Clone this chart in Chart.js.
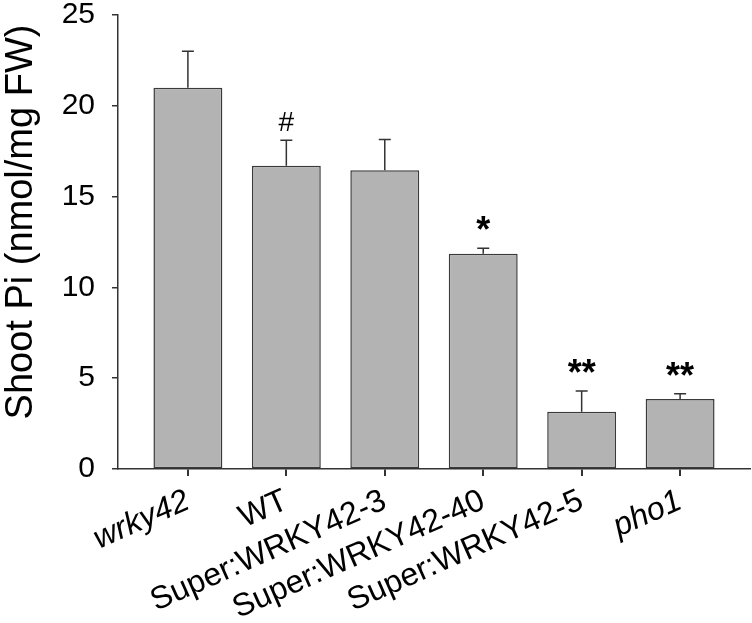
<!DOCTYPE html>
<html>
<head>
<meta charset="utf-8">
<script src="https://cdn.jsdelivr.net/npm/chart.js@4/dist/chart.umd.min.js"></script>
<style>
  html, body { margin: 0; padding: 0; background: #fff; }
  #wrap { width: 752px; height: 623px; }
</style>
</head>
<body>
<div id="wrap"><canvas id="chartShootPi"></canvas></div>
<script>
const categories = ['wrky42', 'WT', 'Super:WRKY42-3', 'Super:WRKY42-40', 'Super:WRKY42-5', 'pho1'];
const italic_labels = ['wrky42', 'pho1'];
const shoot_pi = [21.0, 16.7, 16.45, 11.85, 3.15, 3.85];
const shoot_pi_err = [2.0, 1.4, 1.7, 0.3, 1.15, 0.3];
const marks = ['', '#', '', '*', '**', '**'];
const y_ticks = [0, 5, 10, 15, 20, 25];

const FONT = '"Liberation Sans", Arial, sans-serif';
const DARK = '#333333';

// error bars (upper only) and significance marks
const errorBars = {
    id: 'errorBars',
    afterDatasetsDraw(chart) {
        const ctx = chart.ctx;
        const xs = chart.scales.x, ys = chart.scales.y;
        ctx.save();
        ctx.strokeStyle = DARK;
        ctx.lineWidth = 1.5;
        shoot_pi.forEach((v, i) => {
            const x = xs.getPixelForValue(i);
            const y0 = ys.getPixelForValue(v);
            const y1 = ys.getPixelForValue(v + shoot_pi_err[i]);
            ctx.beginPath();
            ctx.moveTo(x, y0);
            ctx.lineTo(x, y1);
            ctx.moveTo(x - 6, y1);
            ctx.lineTo(x + 6, y1);
            ctx.stroke();
            if (marks[i]) {
                ctx.fillStyle = '#000';
                ctx.textAlign = 'center';
                ctx.textBaseline = 'alphabetic';
                if (marks[i] === '#') {
                    ctx.font = '28px ' + FONT;
                    ctx.fillText(marks[i], x, y1 - 9);
                } else {
                    ctx.font = 'bold 36px ' + FONT;
                    ctx.fillText(marks[i], x, y1 - 6);
                }
            }
        });
        // y axis title
        ctx.save();
        ctx.translate(22, 222);
        ctx.rotate(-Math.PI / 2);
        ctx.font = '38px ' + FONT;
        ctx.fillStyle = '#000';
        ctx.textAlign = 'center';
        ctx.textBaseline = 'middle';
        ctx.fillText('Shoot Pi (nmol/mg FW)', 0, 0);
        ctx.restore();
        ctx.restore();
    }
};

const ctx1 = document.getElementById('chartShootPi').getContext('2d');
const chartShootPi = new Chart(ctx1, {
    type: 'bar',
    data: {
        datasets: [{
            data: shoot_pi.map((v, i) => ({ x: i, y: v })),
            backgroundColor: '#b3b3b3',
            borderColor: '#3a3a3a',
            borderWidth: 1.5,
            borderSkipped: false,
            categoryPercentage: 1,
            barPercentage: 0.70
        }]
    },
    options: {
        responsive: true,
        maintainAspectRatio: false,
        animation: false,
        layout: { padding: { top: 15, right: 2, left: 0, bottom: 0 } },
        plugins: {
            legend: { display: false },
            tooltip: { enabled: false }
        },
        scales: {
            x: {
                type: 'linear',
                offset: false,
                min: -0.71,
                max: 5.71,
                afterFit(scale) {
                    scale.height = 154;
                    scale.paddingLeft = 0;
                    scale.paddingRight = 0;
                },
                border: { color: DARK, width: 1.5 },
                grid: { offset: false, drawOnChartArea: false, drawTicks: true, tickLength: 7, tickColor: DARK, lineWidth: 2 },
                ticks: {
                    stepSize: 1,
                    includeBounds: false,
                    autoSkip: false,
                    minRotation: 24,
                    maxRotation: 24,
                    padding: 6,
                    color: '#000',
                    font: (c) => ({
                        family: FONT,
                        size: 32,
                        style: italic_labels.includes(categories[c.tick ? c.tick.value : 0]) ? 'italic' : 'normal'
                    }),
                    callback: (v) => categories[v] ?? ''
                }
            },
            y: {
                min: 0,
                max: 25,
                afterFit(scale) {
                    scale.width = 118;
                    scale.paddingTop = 0;
                    scale.paddingBottom = 0;
                },
                afterBuildTicks(scale) {
                    scale.ticks = y_ticks.map(v => ({ value: v }));
                },
                border: { color: DARK, width: 1.5 },
                grid: { drawOnChartArea: false, drawTicks: true, tickLength: 6, tickColor: DARK, lineWidth: 1.5 },
                ticks: {
                    padding: 17,
                    color: '#000',
                    font: { family: FONT, size: 30 }
                }
            }
        }
    },
    plugins: [errorBars]
});
</script>
</body>
</html>
